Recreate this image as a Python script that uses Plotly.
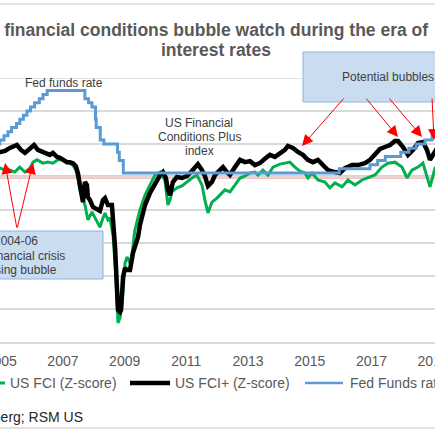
import plotly.graph_objects as go

# US FCI+ (Z-score)
fcip_dates = [
    "2004-11-20", "2004-12-17", "2005-02-15", "2005-04-13", "2005-07-05", "2005-08-22",
    "2005-10-08", "2005-12-07", "2006-01-24", "2006-03-10", "2006-04-27", "2006-06-13",
    "2006-07-30", "2006-09-04", "2006-10-22", "2006-11-27", "2007-01-14", "2007-02-18",
    "2007-03-24", "2007-04-29", "2007-06-03", "2007-06-27", "2007-07-21", "2007-08-14",
    "2007-08-26", "2007-09-19", "2007-10-12", "2007-10-24", "2007-11-17", "2007-12-22",
    "2008-02-07", "2008-03-14", "2008-04-19", "2008-05-13", "2008-06-17", "2008-08-03",
    "2008-09-09", "2008-10-02", "2008-10-14", "2008-11-07", "2008-11-19", "2008-12-13",
    "2009-01-05", "2009-01-29", "2009-03-05", "2009-04-10", "2009-06-08", "2009-07-01",
    "2009-08-30", "2009-10-28", "2009-12-26", "2010-02-24", "2010-03-30", "2010-05-04",
    "2010-05-28", "2010-06-21", "2010-07-26", "2010-09-12", "2010-11-10", "2011-01-08",
    "2011-03-08", "2011-04-13", "2011-05-18", "2011-07-05", "2011-08-09", "2011-09-14",
    "2011-10-31", "2011-12-06", "2012-02-03", "2012-03-10", "2012-04-26", "2012-06-01",
    "2012-07-30", "2012-09-28", "2012-11-26", "2013-01-24", "2013-03-23", "2013-05-21",
    "2013-07-19", "2013-09-17", "2013-11-15", "2014-01-13", "2014-03-13", "2014-04-18",
    "2014-06-16", "2014-08-14", "2014-10-12", "2014-12-10", "2015-02-08", "2015-04-08",
    "2015-05-25", "2015-08-04", "2015-10-26", "2015-12-24", "2016-02-22", "2016-05-15",
    "2016-07-25", "2016-10-16", "2016-12-15", "2017-02-12", "2017-04-12", "2017-06-10",
    "2017-08-08", "2017-10-06", "2017-11-11", "2018-01-09", "2018-03-09", "2018-05-07",
    "2018-07-05", "2018-09-02", "2018-10-20", "2018-11-25", "2019-01-23", "2019-02-10",
]
fcip_vals = [
    0.72, 0.76, 0.79, 0.88, 0.97, 0.82,
    0.73, 0.88, 0.97, 0.82, 0.76, 0.73,
    0.67, 0.73, 0.61, 0.58, 0.52, 0.45,
    0.45, 0.42, 0.33, 0.12, -0.24, -0.70,
    -0.76, -0.15, -0.24, -0.61, -0.70, -0.91,
    -1.00, -1.03, -0.70, -0.64, -0.85, -0.85,
    -2.12, -3.27, -4.03, -4.09, -4.03, -3.03,
    -2.76, -2.82, -2.82, -2.30, -1.82, -1.45,
    -0.85, -0.48, -0.18, 0.06, 0.15, -0.03,
    -0.39, -0.55, -0.15, 0.00, -0.03, 0.03,
    0.18, 0.27, 0.39, 0.21, 0.03, -0.27,
    -0.15, 0.06, 0.21, 0.30, 0.15, 0.06,
    0.30, 0.52, 0.45, 0.48, 0.36, 0.42,
    0.55, 0.67, 0.61, 0.73, 0.82, 0.94,
    0.88, 0.76, 0.67, 0.52, 0.45, 0.52,
    0.39, 0.21, 0.15, 0.12, 0.27, 0.36,
    0.36, 0.42, 0.52, 0.70, 0.85, 0.91,
    0.97, 1.09, 1.09, 0.91, 0.67, 0.82,
    1.03, 1.06, 0.82, 0.52, 0.82, 0.85,
]

# US FCI (Z-score)
fci_dates = [
    "2004-11-20", "2004-12-17", "2005-02-15", "2005-04-13", "2005-06-10", "2005-08-07",
    "2005-10-08", "2005-12-07", "2006-01-12", "2006-02-28", "2006-05-09", "2006-07-07",
    "2006-09-04", "2006-11-03", "2007-01-01", "2007-02-18", "2007-03-24", "2007-04-29",
    "2007-06-03", "2007-06-27", "2007-07-21", "2007-08-14", "2007-09-19", "2007-10-24",
    "2007-11-17", "2007-12-11", "2008-01-16", "2008-02-07", "2008-03-14", "2008-04-19",
    "2008-05-13", "2008-06-17", "2008-07-11", "2008-08-16", "2008-09-21", "2008-10-14",
    "2008-11-07", "2008-12-01", "2009-01-05", "2009-01-29", "2009-03-05", "2009-03-28",
    "2009-05-02", "2009-07-01", "2009-08-30", "2009-10-28", "2009-12-26", "2010-02-24",
    "2010-04-22", "2010-05-28", "2010-06-21", "2010-07-14", "2010-09-12", "2010-11-10",
    "2011-01-08", "2011-03-08", "2011-05-06", "2011-07-05", "2011-08-09", "2011-09-14",
    "2011-10-31", "2011-12-29", "2012-02-27", "2012-04-02", "2012-06-01", "2012-07-30",
    "2012-09-28", "2012-11-26", "2013-01-24", "2013-03-23", "2013-04-28", "2013-06-26",
    "2013-08-24", "2013-10-23", "2014-01-13", "2014-03-13", "2014-05-11", "2014-07-09",
    "2014-09-07", "2014-11-05", "2014-12-10", "2015-01-28", "2015-04-08", "2015-06-30",
    "2015-08-28", "2015-10-26", "2016-01-18", "2016-03-28", "2016-06-20", "2016-09-11",
    "2016-11-21", "2017-02-12", "2017-05-05", "2017-07-15", "2017-10-06", "2017-12-28",
    "2018-02-26", "2018-04-25", "2018-07-05", "2018-09-02", "2018-11-25", "2019-01-23",
    "2019-02-10",
]
fci_vals = [
    0.25, 0.27, 0.21, 0.21, 0.15, 0.30,
    0.15, 0.27, 0.45, 0.52, 0.42, 0.45,
    0.42, 0.52, 0.52, 0.45, 0.42, 0.36,
    0.21, -0.03, -0.39, -0.55, -0.85, -1.30,
    -1.15, -1.06, -1.24, -1.36, -1.52, -1.24,
    -1.09, -1.30, -1.24, -1.76, -3.12, -4.42,
    -4.27, -3.82, -2.61, -2.42, -2.61, -2.36,
    -1.61, -1.00, -0.55, -0.24, 0.06, 0.15,
    -0.09, -0.85, -0.70, -0.45, -0.33, -0.27,
    -0.15, -0.03, 0.06, -0.24, -0.70, -1.09,
    -0.76, -0.64, -0.48, -0.39, -0.45, -0.24,
    -0.03, 0.03, 0.12, 0.15, 0.06, 0.21,
    0.06, 0.30, 0.39, 0.42, 0.45, 0.30,
    0.18, 0.12, -0.03, 0.12, -0.09, -0.15,
    -0.33, -0.18, -0.30, -0.09, -0.24, -0.09,
    -0.03, 0.06, 0.30, 0.42, 0.45, 0.30,
    -0.03, 0.21, 0.30, 0.42, -0.30, 0.27,
    0.30,
]

# Fed funds target rate (upper bound, %), change dates
ff_dates = [
    "2004-11-10", "2004-12-14", "2005-02-02", "2005-03-22", "2005-05-03", "2005-06-30",
    "2005-08-09", "2005-09-20", "2005-11-01", "2005-12-13", "2006-01-31", "2006-03-28",
    "2006-05-10", "2006-06-29", "2007-09-18", "2007-10-31", "2007-12-11", "2008-01-22",
    "2008-01-30", "2008-03-18", "2008-04-30", "2008-10-08", "2008-10-29", "2008-12-16",
    "2015-12-16", "2016-12-14", "2017-03-15", "2017-06-14", "2017-12-13", "2018-03-21",
    "2018-06-13", "2018-09-26", "2018-12-19", "2019-02-15",
]
ff_rate = [
    2.00, 2.25, 2.50, 2.75, 3.00, 3.25,
    3.50, 3.75, 4.00, 4.25, 4.50, 4.75,
    5.00, 5.25, 4.75, 4.50, 4.25, 3.50,
    3.00, 2.25, 2.00, 1.50, 1.00, 0.25,
    0.50, 0.75, 1.00, 1.25, 1.50, 1.75,
    2.00, 2.25, 2.50, 2.50,
]

GREEN = "#00b050"
BLUE = "#5b9bd5"
RED = "#ff0000"
GRID = "#d9d9d9"
FONT = "Liberation Sans, Arial, sans-serif"

W, H = 435, 435
TOP, BOTTOM = 78, 342  # plot area in pixels


def px(x):
    return x / W


def py(y):
    return (BOTTOM - y) / (BOTTOM - TOP)


fig = go.Figure()
fig.add_trace(go.Scatter(x=fci_dates, y=fci_vals, mode="lines",
                         line=dict(color=GREEN, width=3), name="US FCI (Z-score)"))
fig.add_trace(go.Scatter(x=fcip_dates, y=fcip_vals, mode="lines",
                         line=dict(color="black", width=4.5), name="US FCI+ (Z-score)"))
fig.add_trace(go.Scatter(x=ff_dates, y=ff_rate, mode="lines", yaxis="y2",
                         line=dict(color=BLUE, width=3, shape="hv"), name="Fed Funds rate"))

shapes = []
# top gridline (edge of the plot area)
shapes.append(dict(type="line", xref="paper", yref="y", x0=0, x1=1, y0=3, y1=3,
                   line=dict(color=GRID, width=1.5), layer="below"))
# zero line and +/-1 bands
shapes.append(dict(type="line", xref="paper", yref="y", x0=0, x1=1, y0=0, y1=0,
                   line=dict(color=RED, width=2.5), layer="between"))
for lvl in (1, -1):
    shapes.append(dict(type="line", xref="paper", yref="y", x0=0, x1=1, y0=lvl, y1=lvl,
                       line=dict(color="rgba(255,60,60,0.7)", width=1.5, dash="dot"),
                       layer="between"))
# chart frame
for yy in (4, 428):
    shapes.append(dict(type="line", xref="paper", yref="paper", x0=0, x1=1,
                       y0=py(yy), y1=py(yy), line=dict(color=GRID, width=1.5)))
# callout boxes
shapes.append(dict(type="rect", xref="paper", yref="paper",
                   x0=px(303), x1=px(480), y0=py(102), y1=py(52),
                   fillcolor="#c9dcf0", line=dict(color="#8fb4df", width=1)))
shapes.append(dict(type="rect", xref="paper", yref="paper",
                   x0=px(-100), x1=px(103), y0=py(279), y1=py(231),
                   fillcolor="#c9dcf0", line=dict(color="#8fb4df", width=1)))
# legend samples
ly = py(383)
shapes.append(dict(type="line", xref="paper", yref="paper", x0=px(-35), x1=px(5),
                   y0=ly, y1=ly, line=dict(color=GREEN, width=3)))
shapes.append(dict(type="line", xref="paper", yref="paper", x0=px(130), x1=px(170),
                   y0=ly, y1=ly, line=dict(color="black", width=4.5)))
shapes.append(dict(type="line", xref="paper", yref="paper", x0=px(305), x1=px(343),
                   y0=ly, y1=ly, line=dict(color=BLUE, width=2.5)))

ann = []


def label(text, x, y, size=12, color="#404040", anchor="center", bold=False):
    ann.append(dict(text=("<b>%s</b>" % text) if bold else text, x=px(x), y=py(y),
                    xref="paper", yref="paper", showarrow=False, xanchor=anchor,
                    yanchor="middle", font=dict(family=FONT, size=size, color=color)))


label("US financial conditions bubble watch during the era of", 430, 30,
      size=17.5, color="#595959", anchor="right", bold=True)
label("interest rates", 215.5, 50, size=17.5, color="#595959", bold=True)
label("Fed funds rate", 64, 83)
label("US Financial", 199, 123)
label("Conditions Plus", 199, 137)
label("index", 199, 151)
label("Potential bubbles", 387.5, 77)
label("2004-06", 16, 241)
label("Pre-financial crisis", 16, 256)
label("housing bubble", 16, 270)
label("US FCI (Z-score)", 8, 383, size=14, color="#595959", anchor="left")
label("US FCI+ (Z-score)", 173, 383, size=14, color="#595959", anchor="left")
label("Fed Funds rate", 348, 383, size=14, color="#595959", anchor="left")
label("Source: Bloomberg; RSM US", 85, 417, size=14, color="#262626", anchor="right")

# red arrows: (tip_x, tip_y, tail_x, tail_y) in pixels
arrows = [
    (302, 146, 345, 97),
    (398, 137, 365, 97),
    (422, 137, 388, 97),
    (460, 140, 432, 97),
    (5, 163, 17, 229),
    (33, 163, 17, 229),
]
for tx, ty, sx, sy in arrows:
    ann.append(dict(text="", x=px(tx), y=py(ty), xref="paper", yref="paper",
                    showarrow=True, ax=sx - tx, ay=sy - ty, arrowcolor=RED,
                    arrowwidth=1, arrowsize=2.2, arrowhead=2, standoff=0))

fig.update_layout(
    width=W, height=H,
    margin=dict(l=0, r=0, t=TOP, b=H - BOTTOM, autoexpand=False),
    paper_bgcolor="white", plot_bgcolor="white",
    showlegend=False,
    font=dict(family=FONT, color="#595959"),
    xaxis=dict(range=["2004-12-17", "2019-01-23"], type="date",
               tick0="2005-01-01", dtick="M24", tickformat="%Y",
               showgrid=False, zeroline=False, showline=True, linecolor=GRID,
               linewidth=1.5, ticks="", ticklabeloverflow="allow",
               ticklabelstandoff=5, tickfont=dict(size=14, color="#595959")),
    yaxis=dict(range=[-5, 3], dtick=1, showgrid=True, gridcolor=GRID, gridwidth=1.5,
               zeroline=False, showticklabels=False, ticks=""),
    yaxis2=dict(range=[-10, 6], overlaying="y", side="right", showgrid=False,
                zeroline=False, showticklabels=False, ticks=""),
    shapes=shapes,
    annotations=ann,
)

# the page's default body margin would push the figure 8px in from the corner
fig.write_html("out.html", config={"displayModeBar": False},
               post_script="document.body.style.margin = '0';")
